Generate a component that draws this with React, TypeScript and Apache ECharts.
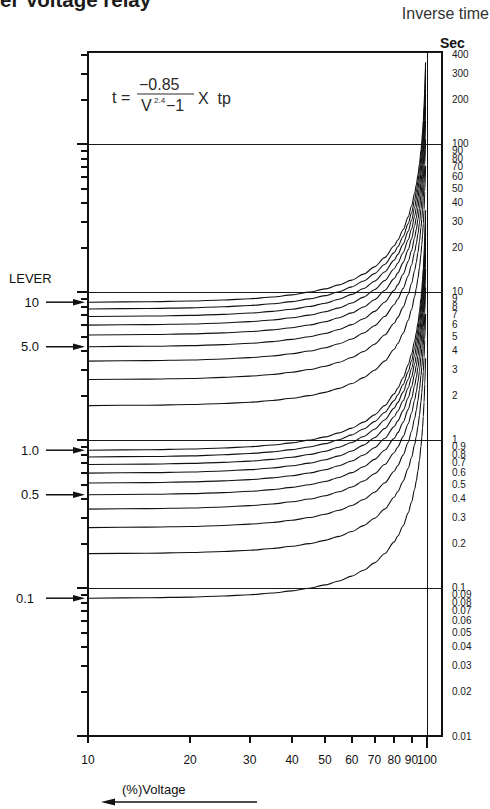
import React, { useEffect, useRef } from "react";
import * as echarts from "echarts";

// Voltage (%) sample points and the time of the LEVER 1.0 curve (sec) read at them
const voltages = [10, 15, 20, 25, 30, 35, 40, 45, 50, 55, 60, 65, 70, 75, 80, 82, 85, 88, 90, 92, 93, 94, 95, 96, 96.5, 97, 97.5, 98, 98.5, 99];
const baseTime = [0.853, 0.859, 0.868, 0.882, 0.9, 0.924, 0.956, 0.997, 1.049, 1.116, 1.203, 1.319, 1.478, 1.705, 2.05, 2.243, 2.632, 3.218, 3.804, 4.687, 5.318, 6.159, 7.338, 9.108, 10.37, 12.06, 14.42, 17.96, 23.86, 35.67];

// lever settings (tp) of the drawn curves
const levers = [0.1, 0.2, 0.3, 0.4, 0.5, 0.6, 0.7, 0.8, 0.9, 1, 2, 3, 4, 5, 6, 7, 8, 9, 10];

// labelled lever arrows
const leverMarks = [10, 5, 1, 0.5, 0.1];
const leverMarkLabels = ["10", "5.0", "1.0", "0.5", "0.1"];

// axis ticks / labels
const xTickValues = [10, 20, 30, 40, 50, 60, 70, 80, 90, 100];
const xTickLabels = ["10", "20", "30", "40", "50", "60", "70", "80", "90", "100"];
const yTickValues = [0.01, 0.02, 0.03, 0.04, 0.05, 0.06, 0.07, 0.08, 0.09, 0.1, 0.2, 0.3, 0.4, 0.5, 0.6, 0.7, 0.8, 0.9, 1, 2, 3, 4, 5, 6, 7, 8, 9, 10, 20, 30, 40, 50, 60, 70, 80, 90, 100, 200, 300, 400];
const yTickLabels = ["0.01", "0.02", "0.03", "0.04", "0.05", "0.06", "0.07", "0.08", "0.09", "0.1", "0.2", "0.3", "0.4", "0.5", "0.6", "0.7", "0.8", "0.9", "1", "2", "3", "4", "5", "6", "7", "8", "9", "10", "20", "30", "40", "50", "60", "70", "80", "90", "100", "200", "300", "400"];
const yDecades = [0.01, 0.1, 1, 10, 100];

const X_MIN = 10;
const X_MAX = 110.7;
const Y_MIN = 0.01;
const Y_MAX = 418;

const FONT = "'Liberation Sans', Arial, Helvetica, sans-serif";
const INK = "#111";

export default function App() {
  const ref = useRef<HTMLDivElement>(null);

  useEffect(() => {
    if (!ref.current) return;
    const chart = echarts.init(ref.current, undefined, { renderer: "svg" });

    const lg = (v: number) => Math.log10(v);
    const yMinor = yTickValues.filter((v) => !yDecades.includes(v));

    const series: any[] = levers.map((lv, k) => ({
      type: "line",
      name: String(lv),
      xAxisIndex: 0,
      yAxisIndex: 0,
      data: voltages.map((v, i) => [v, lv * baseTime[i]]),
      showSymbol: false,
      symbol: "none",
      smooth: 0.3,
      smoothMonotone: "x",
      lineStyle: { color: INK, width: 1.1 },
      silent: true,
      markLine:
        k === 0
          ? {
              silent: true,
              symbol: ["none", "none"],
              label: { show: false },
              lineStyle: { color: INK, width: 1, type: "solid" },
              data: [{ xAxis: 100 }],
            }
          : undefined,
    }));

    const yFmt = (v: number) => {
      const i = yTickValues.findIndex((t) => Math.abs(lg(t) - v) < 1e-6);
      return i >= 0 ? yTickLabels[i] : "";
    };
    const xFmt = (v: number) => {
      const i = xTickValues.findIndex((t) => Math.abs(lg(t) - v) < 1e-6);
      return i >= 0 ? xTickLabels[i] : "";
    };

    const hiddenLine = { show: false, onZero: false };
    const xLabelBase = { show: true, formatter: xFmt, color: "#111", fontSize: 12, fontFamily: FONT, margin: 18, hideOverlap: false };
    const lastX = xTickValues[xTickValues.length - 1];

    chart.setOption({
      animation: false,
      backgroundColor: "#fff",
      grid: { left: 88, right: 48, top: 52, bottom: 73, show: true, borderColor: INK, borderWidth: 2, backgroundColor: "transparent" },
      xAxis: [
        {
          type: "log",
          logBase: 10,
          min: X_MIN,
          max: X_MAX,
          position: "bottom",
          axisLine: { show: true, onZero: false, lineStyle: { color: INK, width: 2 } },
          axisTick: { show: false },
          axisLabel: { show: false },
          splitLine: { show: false },
          minorTick: { show: false },
        },
        {
          type: "value",
          min: lg(X_MIN),
          max: lg(X_MAX),
          position: "bottom",
          axisLine: hiddenLine,
          axisTick: { show: true, length: 7, customValues: xTickValues.slice(0, -1).map(lg), lineStyle: { color: INK, width: 2 } },
          axisLabel: { ...xLabelBase, customValues: xTickValues.slice(0, -1).map(lg) },
          splitLine: { show: false },
        },
        {
          type: "value",
          min: lg(X_MIN),
          max: lg(X_MAX),
          position: "bottom",
          axisLine: hiddenLine,
          axisTick: { show: true, length: 12, customValues: [lg(lastX)], lineStyle: { color: INK, width: 2 } },
          axisLabel: { ...xLabelBase, customValues: [lg(lastX)] },
          splitLine: { show: false },
        },
      ],
      yAxis: [
        {
          type: "log",
          logBase: 10,
          min: Y_MIN,
          max: Y_MAX,
          position: "left",
          axisLine: { show: true, onZero: false, lineStyle: { color: INK, width: 2 } },
          axisTick: { show: false },
          axisLabel: { show: false },
          splitLine: { show: true, lineStyle: { color: "#1a1a1a", width: 1 } },
          minorTick: { show: false },
        },
        {
          type: "value",
          min: lg(Y_MIN),
          max: lg(Y_MAX),
          position: "left",
          axisLine: hiddenLine,
          axisTick: { show: true, length: 11, customValues: yDecades.map(lg), lineStyle: { color: INK, width: 2 } },
          axisLabel: { show: false },
          splitLine: { show: false },
        },
        {
          type: "value",
          min: lg(Y_MIN),
          max: lg(Y_MAX),
          position: "left",
          axisLine: hiddenLine,
          axisTick: { show: true, length: 7, customValues: yMinor.map(lg), lineStyle: { color: INK, width: 2 } },
          axisLabel: { show: false },
          splitLine: { show: false },
        },
        {
          type: "value",
          min: lg(Y_MIN),
          max: lg(Y_MAX),
          position: "right",
          axisLine: hiddenLine,
          axisTick: { show: false },
          axisLabel: { show: true, customValues: yTickValues.map(lg), formatter: yFmt, color: "#1a1a1a", fontSize: 10, fontFamily: FONT, margin: 10, hideOverlap: false },
          splitLine: { show: false },
        },
      ],
      series,
    });

    // annotations (positions of lever arrows taken from the y scale)
    const txt = "#2a2a2a";
    const graphics: any[] = [
      { type: "text", x: 0, y: -1, style: { text: "er Voltage relay", font: `bold 20.5px ${FONT}`, fill: "#1a1a1a", verticalAlign: "middle" } },
      { type: "text", x: 489, y: 13, style: { text: "Inverse time", font: `16px ${FONT}`, fill: "#333", align: "right", verticalAlign: "middle" } },
      { type: "text", x: 440, y: 43, style: { text: "Sec", font: `bold 14px ${FONT}`, fill: "#111", verticalAlign: "middle" } },
      // formula
      { type: "text", x: 112, y: 97, style: { text: "t =", font: `16px ${FONT}`, fill: txt, verticalAlign: "middle" } },
      { type: "text", x: 139, y: 84, style: { text: "\u22120.85", font: `16px ${FONT}`, fill: txt, verticalAlign: "middle" } },
      { type: "line", shape: { x1: 137, y1: 94, x2: 194, y2: 94 }, style: { stroke: txt, lineWidth: 1 } },
      { type: "text", x: 141, y: 105, style: { text: "V", font: `16px ${FONT}`, fill: txt, verticalAlign: "middle" } },
      { type: "text", x: 154, y: 100, style: { text: "2.4", font: `8px ${FONT}`, fill: txt, verticalAlign: "middle" } },
      { type: "text", x: 166, y: 105, style: { text: "\u22121", font: `16px ${FONT}`, fill: txt, verticalAlign: "middle" } },
      { type: "text", x: 198, y: 98, style: { text: "X  tp", font: `16px ${FONT}`, fill: txt, verticalAlign: "middle" } },
      // LEVER
      { type: "text", x: 9, y: 278, style: { text: "LEVER", font: `13px ${FONT}`, fill: "#111", verticalAlign: "middle" } },
      // bottom voltage label + arrow
      { type: "text", x: 122, y: 789, style: { text: "(%)Voltage", font: `13px ${FONT}`, fill: "#111", verticalAlign: "middle" } },
      { type: "line", shape: { x1: 112, y1: 802, x2: 257, y2: 802 }, style: { stroke: INK, lineWidth: 1.5 } },
      { type: "polygon", shape: { points: [[101, 802], [115, 798.5], [115, 805.5]] }, style: { fill: INK } },
    ];

    leverMarks.forEach((lv, i) => {
      const y = chart.convertToPixel({ yAxisIndex: 0 }, lv * baseTime[0]) as unknown as number;
      const right = lv === 0.1 ? 34 : 39;
      graphics.push({ type: "text", x: right, y, style: { text: leverMarkLabels[i], font: `13px ${FONT}`, fill: "#111", align: "right", verticalAlign: "middle" } });
      graphics.push({ type: "line", shape: { x1: 46, y1: y, x2: 76, y2: y }, style: { stroke: INK, lineWidth: 1.5 } });
      graphics.push({ type: "polygon", shape: { points: [[73, y - 3.2], [85, y], [73, y + 3.2]] }, style: { fill: INK } });
    });

    chart.setOption({ graphic: graphics });

    return () => chart.dispose();
  }, []);

  return (
    <div
      ref={ref}
      style={{ position: "fixed", left: 0, top: 0, width: 490, height: 809, background: "#fff" }}
    />
  );
}
